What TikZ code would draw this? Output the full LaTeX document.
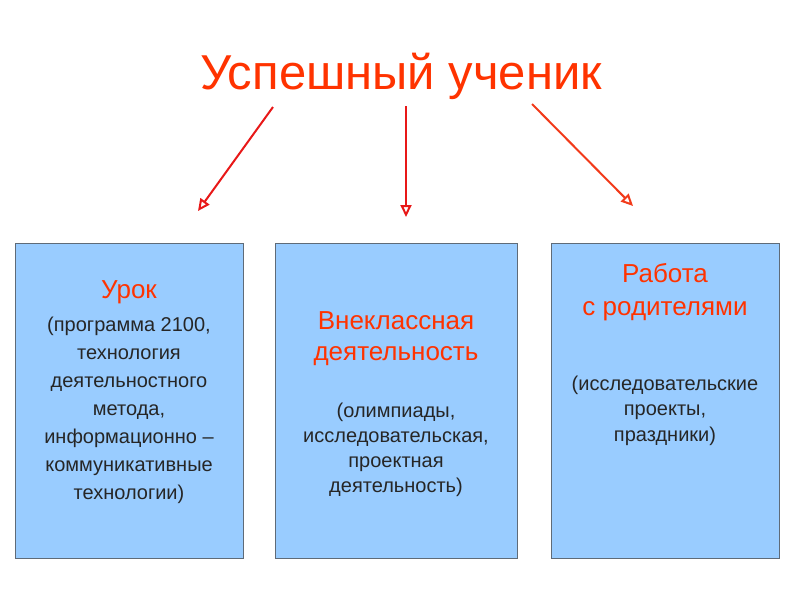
\documentclass[tikz,border=0pt]{standalone}
\usepackage{fontspec}
\setmainfont{Liberation Sans}
\usetikzlibrary{arrows.meta}
\definecolor{boxfill}{HTML}{99CCFF}
\definecolor{boxline}{HTML}{5F6B78}
\definecolor{titlered}{HTML}{FF3300}
\definecolor{arrred}{HTML}{E81818}
\definecolor{arrorange}{HTML}{F23A1A}
\begin{document}
\begin{tikzpicture}[x=1pt,y=-1pt,
  panel/.style={draw=boxline, line width=1pt, fill=boxfill},
  head/.style={text=titlered, font=\fontsize{26}{31}\selectfont, align=center},
  body/.style={text=black!85, font=\fontsize{20}{28}\selectfont, align=center},
  conn/.style={line width=2pt, -{Triangle[open,length=12pt,width=11pt]}}]
\useasboundingbox (0,0) rectangle (800,600);
\node[text=titlered, font=\fontsize{49}{52}\selectfont] (title) at (401,76) {Успешный ученик};
\node[panel, minimum width=228pt, minimum height=315pt] (b1) at (129,400.5) {};
\node[panel, minimum width=242pt, minimum height=315pt] (b2) at (396,400.5) {};
\node[panel, minimum width=228pt, minimum height=315pt] (b3) at (665,400.5) {};
\node[head] (h1) at (129,292) {Урок};
\node[body, font=\fontsize{20}{27.9}\selectfont] (t1) at (129,410.5) {(программа 2100,\\технология\\деятельностного\\метода,\\информационно –\\коммуникативные\\технологии)};
\node[head] (h2) at (396,338.5) {Внеклассная\\деятельность};
\node[body, font=\fontsize{20}{25}\selectfont] (t2) at (396,449.5) {(олимпиады,\\исследовательская,\\проектная\\деятельность)};
\node[head, font=\fontsize{26}{33}\selectfont] (h3) at (665,292.5) {Работа\\с родителями};
\node[body, font=\fontsize{20}{25.5}\selectfont] (t3) at (665,410.5) {(исследовательские\\проекты,\\праздники)};
\coordinate (s1) at (273,107);
\coordinate (e1) at (198,211);
\coordinate (s2) at (406,106);
\coordinate (e2) at (406,217);
\coordinate (s3) at (532,104);
\coordinate (e3) at (633,206);
\draw[conn, draw=arrred] (s1) -- (e1);
\draw[conn, draw=arrred] (s2) -- (e2);
\draw[conn, draw=arrorange] (s3) -- (e3);
\end{tikzpicture}
\end{document}
